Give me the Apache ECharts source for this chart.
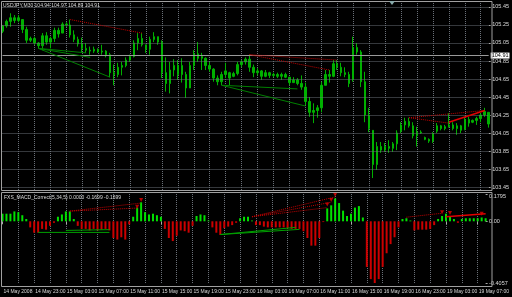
<!DOCTYPE html>
<html><head><meta charset="utf-8">
<script src="https://cdn.jsdelivr.net/npm/echarts@6/dist/echarts.min.js"></script>
<style>html,body{margin:0;padding:0;background:#000;}#c{width:512px;height:297px;}</style>
</head><body><div id="c"></div>
<script>
// ---- data (USDJPY M30, 14-19 May 2008) ----
const timeLabels = ["14 May 2008","14 May 23:00","15 May 03:00","15 May 07:00","15 May 11:00","15 May 15:00","15 May 19:00","15 May 23:00","16 May 03:00","16 May 07:00","16 May 11:00","16 May 15:00","16 May 19:00","16 May 23:00","19 May 03:00","19 May 07:00"];
const high = [105.25,105.31,105.38,105.36,105.36,105.31,105.23,105.12,105.12,105.06,105.16,105.17,105.12,105.22,105.22,105.28,105.28,105.31,105.19,105.12,
105.11,105.05,105.01,105.01,104.99,105.03,104.97,104.94,104.81,104.83,104.84,104.89,104.92,105.08,105.16,105.16,105.03,105.12,105.17,105.12,
105.08,104.89,104.84,104.87,104.86,104.88,104.73,104.84,104.97,105.06,104.94,104.89,104.84,104.77,104.69,104.73,104.83,104.73,104.73,104.84,
104.86,104.89,104.92,104.81,104.77,104.75,104.75,104.73,104.72,104.72,104.72,104.72,104.67,104.67,104.66,104.69,104.61,104.45,104.38,104.36,
104.62,104.75,104.75,104.86,104.86,104.83,104.78,104.73,105.12,105.05,104.97,104.73,104.33,104.08,103.95,103.95,103.94,103.97,103.95,104.08,
104.17,104.22,104.22,104.17,104.12,104.08,104.01,103.99,104.06,104.16,104.14,104.14,104.27,104.17,104.16,104.14,104.23,104.23,104.20,104.23,
104.27,104.33,104.28];
const low = [105.16,105.22,105.23,105.27,105.28,105.16,105.05,105.06,105.03,104.99,104.97,105.03,104.99,105.06,105.11,105.16,105.23,105.11,105.06,105.01,
104.95,104.94,104.92,104.94,104.94,104.92,104.89,104.67,104.58,104.67,104.69,104.78,104.84,104.89,104.97,105.01,104.94,104.92,105.06,105.03,
104.66,104.51,104.49,104.68,104.64,104.61,104.44,104.62,104.75,104.84,104.75,104.75,104.73,104.62,104.58,104.58,104.66,104.58,104.67,104.69,
104.78,104.81,104.73,104.67,104.69,104.64,104.67,104.66,104.67,104.66,104.64,104.66,104.58,104.61,104.58,104.53,104.36,104.23,104.16,104.22,
104.28,104.58,104.61,104.67,104.75,104.68,104.67,104.56,104.62,104.92,104.56,104.17,104.06,103.55,103.64,103.83,103.84,103.83,103.84,103.86,
104.05,104.08,104.11,103.99,103.90,104.04,103.97,103.94,103.94,104.05,104.08,104.08,104.11,104.08,104.03,104.05,104.08,104.12,104.16,104.14,
104.17,104.23,104.11];
const open = [105.18,105.24,105.29,105.33,105.30,105.31,105.20,105.08,105.10,105.05,105.02,105.13,105.06,105.10,105.19,105.16,105.26,105.25,105.14,105.09,
105.04,104.99,104.97,104.96,104.98,104.95,104.96,104.92,104.72,104.70,104.78,104.80,104.86,104.90,105.05,105.10,105.03,104.98,105.09,105.12,
105.06,104.72,104.60,104.75,104.80,104.70,104.70,104.55,104.80,104.93,104.88,104.88,104.80,104.76,104.66,104.62,104.70,104.72,104.68,104.71,
104.81,104.84,104.87,104.78,104.72,104.74,104.68,104.72,104.69,104.70,104.68,104.70,104.67,104.61,104.64,104.60,104.56,104.40,104.28,104.30,
104.33,104.58,104.70,104.68,104.82,104.78,104.72,104.70,104.64,105.00,104.95,104.62,104.25,104.08,103.70,103.90,103.86,103.90,103.88,103.93,
104.07,104.14,104.18,104.13,104.02,104.06,104.00,103.98,103.96,104.07,104.13,104.10,104.12,104.14,104.10,104.13,104.09,104.20,104.17,104.19,
104.21,104.25,104.28];
const close = [105.24,105.29,105.33,105.30,105.33,105.20,105.08,105.10,105.05,105.02,105.13,105.06,105.10,105.19,105.15,105.26,105.25,105.14,105.09,105.04,
104.99,104.97,104.96,104.98,104.95,104.96,104.92,104.72,104.70,104.78,104.80,104.86,104.90,105.05,105.10,105.03,104.98,105.09,105.12,105.06,
104.72,104.60,104.75,104.80,104.70,104.80,104.55,104.80,104.93,104.88,104.90,104.80,104.76,104.66,104.62,104.70,104.74,104.66,104.71,104.81,
104.84,104.87,104.78,104.72,104.74,104.68,104.72,104.69,104.70,104.68,104.70,104.67,104.61,104.64,104.60,104.56,104.40,104.28,104.30,104.33,
104.58,104.70,104.68,104.82,104.78,104.72,104.70,104.60,105.00,104.95,104.62,104.25,104.10,103.70,103.90,103.86,103.90,103.88,103.93,104.05,
104.14,104.18,104.13,104.02,104.06,104.05,103.98,103.96,104.04,104.13,104.10,104.12,104.14,104.10,104.13,104.08,104.20,104.16,104.19,104.21,
104.25,104.29,104.15];
const macd = [0.05,0.05,0.05,0.065,0.06,0.04,0.015,
-0.04,-0.075,-0.075,-0.05,-0.055,-0.03,-0.01,
0.03,0.045,0.065,0.065,0.015,
-0.03,-0.05,-0.05,-0.06,-0.05,-0.06,-0.055,-0.05,-0.06,-0.11,-0.12,-0.105,-0.12,-0.02,
0.03,0.09,0.125,0.06,0.045,0.05,0.04,0.03,
-0.05,-0.11,-0.13,-0.095,-0.06,-0.065,-0.075,-0.03,
0.035,0.045,0.04,0.005,
-0.04,-0.075,-0.09,-0.045,-0.035,-0.025,-0.01,
0.02,0.03,0.03,0.005,
-0.025,-0.025,-0.035,-0.04,-0.04,-0.04,-0.04,-0.04,-0.045,-0.05,-0.05,-0.05,-0.065,-0.11,-0.16,-0.16,-0.11,-0.005,
0.085,0.105,0.15,0.12,0.07,0.035,0.05,0.09,0.1,0.025,
-0.3,-0.38,-0.4057,-0.38,-0.3,-0.21,-0.15,-0.105,-0.04,
0.015,0.02,0.005,
-0.06,-0.055,-0.055,-0.055,-0.05,-0.025,
0.015,0.035,0.05,0.035,0.015,-0.01,
0.015,0.02,0.02,0.02,0.02,0.025,0.02];
const priceTicks = [105.45,105.25,105.05,104.85,104.65,104.45,104.25,104.05,103.85,103.65,103.45];
const macdTicks = [0.1795, 0, -0.4057];
const macdTickLabels = ["0.1795","0.00","-0.4057"];
const lastPrice = 104.91;
const headerText = "USDJPY,M30 104.94 104.97 104.89 104.91";
const macdHeader = "FXS_MACD_Correct(5,34,5) 0.0000 -0.1699 -0.1699";
// divergence segments: [barIndex, value]
const priceDivRed = [[[17,105.31],[35,105.16]],[[62,104.92],[84,104.86]],[[62,104.92],[82,104.75]],[[102,104.22],[112,104.16]],[[102,104.22],[121,104.30]]];
const priceDivRedSolid = [[[112,104.17],[121,104.30]]];
const priceDivGreen = [[[9,104.99],[27,104.67]],[[9,104.99],[22,104.89]],[[9,104.99],[21,104.94]],[[55,104.58],[74,104.54]],[[55,104.58],[76,104.35]]];
const macdDivRed = [[[17,0.067],[34,0.087]],[[17,0.067],[35,0.12]],[[63,0.03],[84,0.16]],[[63,0.03],[83,0.125]],[[63,0.03],[82,0.09]],[[102,0.027],[111,0.053]]];
const macdDivRedSolid = [[[112,0.03],[122,0.05]]];
const macdDivGreen = [[[9,-0.073],[27,-0.073]],[[16,-0.06],[27,-0.055]],[[55,-0.087],[75,-0.053]],[[55,-0.087],[74,-0.04]]];
const macdArrows = [[34,0.095],[35,0.14],[82,0.11],[83,0.14],[84,0.175],[111,0.06],[113,0.055],[121,0.05]];

// ---- chart ----
const cats = high.map((_, i) => String(i));
const gridColor = '#6a7078';
const txt = '#dcdcdc';
const FONT = 'Liberation Sans';
const chart = echarts.init(document.getElementById('c'), null, {renderer: 'canvas'});

function segSeries(segs, color, type, xi, yi, width) {
  return segs.map(s => ({
    type: 'line', xAxisIndex: xi, yAxisIndex: yi, data: s, symbol: 'none', silent: true,
    lineStyle: {color: color, type: type, width: width || 1}, z: 5
  }));
}

const option = {
  backgroundColor: '#000',
  animation: false,
  grid: [
    {left: 2.5, right: 21.5, top: 3, height: 188},
    {left: 2.5, right: 21.5, top: 194, height: 89}
  ],
  xAxis: [
    {type: 'category', gridIndex: 0, data: cats, boundaryGap: false,
     axisLine: {show: false}, axisTick: {show: false}, axisLabel: {show: false},
     splitLine: {show: true, interval: (i) => i > 0 && i % 4 === 0, lineStyle: {color: gridColor, type: 'dotted', width: 1}}},
    {type: 'category', gridIndex: 1, data: cats, boundaryGap: false,
     axisLine: {show: false},
     axisTick: {show: true, interval: (i) => i % 8 === 0, length: 3, lineStyle: {color: '#aaa'}},
     axisLabel: {interval: (i) => i % 8 === 0, formatter: (v, i) => timeLabels[i / 8], align: 'left',
                 fontSize: 5, color: txt, margin: 6, fontFamily: FONT, padding: [0, 0, 0, 1]},
     splitLine: {show: true, interval: (i) => i > 0 && i % 4 === 0, lineStyle: {color: gridColor, type: 'dotted', width: 1}}}
  ],
  yAxis: [
    {type: 'value', gridIndex: 0, position: 'right', min: 103.406, max: 105.494, scale: true,
     splitLine: {show: false}, axisLine: {show: false},
     axisTick: {show: true, customValues: priceTicks, length: 2, lineStyle: {color: '#aaa'}},
     axisLabel: {customValues: priceTicks, formatter: (v) => Number(v).toFixed(2), fontSize: 5.5, color: txt, margin: 3.5, fontFamily: FONT}},
    {type: 'value', gridIndex: 1, position: 'right', min: -0.4057, max: 0.1795,
     splitLine: {show: false}, axisLine: {show: false},
     axisTick: {show: true, customValues: macdTicks, length: 2, lineStyle: {color: '#aaa'}},
     axisLabel: {customValues: macdTicks,
       formatter: (v) => { const k = macdTicks.indexOf(Number(v)); return k === 0 ? '{t|' + macdTickLabels[k] + '}' : (macdTickLabels[k] || ''); },
       rich: {t: {fontSize: 5.5, color: txt, fontFamily: FONT, padding: [5, 0, 0, 0]}},
       fontSize: 5.5, color: txt, margin: 3.5, fontFamily: FONT}}
  ],
  series: [
    {type: 'candlestick', xAxisIndex: 0, yAxisIndex: 0, barWidth: 2, clip: false,
     data: high.map((h, i) => [open[i], close[i], low[i], h]),
     itemStyle: {color: '#00b000', color0: '#00b000', borderColor: '#00b000', borderColor0: '#00b000', borderWidth: 1},
     markLine: {silent: true, symbol: 'none', animation: false,
       data: priceTicks.map(v => ({yAxis: v, lineStyle: {color: gridColor, type: 'dotted', width: 1}, label: {show: false}}))
         .concat([{yAxis: lastPrice, lineStyle: {color: '#9a9a9a', type: 'solid', width: 1},
                   label: {show: true, position: 'end', distance: 2, formatter: lastPrice.toFixed(2), backgroundColor: '#fff', color: '#000', fontSize: 5.5, padding: [0, 1], fontFamily: FONT}}])}
    },
    {type: 'bar', xAxisIndex: 1, yAxisIndex: 1, barWidth: 2, data: macd,
     itemStyle: {color: (p) => p.value >= 0 ? '#00e000' : '#cc0000'}},
    {type: 'scatter', xAxisIndex: 1, yAxisIndex: 1, data: macdArrows, symbol: 'triangle', symbolSize: 4, symbolRotate: 180,
     itemStyle: {color: '#e00000'}, silent: true, z: 6}
  ].concat(segSeries(priceDivRed, '#c00000', 'dotted', 0, 0))
   .concat(segSeries(priceDivRedSolid, '#e00000', 'solid', 0, 0, 1.5))
   .concat(segSeries(priceDivGreen, '#008000', 'solid', 0, 0))
   .concat(segSeries(macdDivRed, '#c00000', 'dotted', 1, 1))
   .concat(segSeries(macdDivRedSolid, '#e00000', 'solid', 1, 1, 1.5))
   .concat(segSeries(macdDivGreen, '#00a000', 'solid', 1, 1)),
  graphic: [
    {type: 'rect', shape: {x: 1.5, y: 1.5, width: 490.5, height: 189}, style: {fill: null, stroke: '#a0a0a0', lineWidth: 1}, silent: true, z: 10},
    {type: 'rect', shape: {x: 1.5, y: 192.5, width: 490.5, height: 94}, style: {fill: null, stroke: '#a0a0a0', lineWidth: 1}, silent: true, z: 10},
    {type: 'text', left: 3, top: 3, style: {text: headerText, fill: txt, fontSize: 5, fontFamily: FONT}, silent: true, z: 11},
    {type: 'text', left: 4, top: 195, style: {text: macdHeader, fill: txt, fontSize: 5, fontFamily: FONT}, silent: true, z: 11},
    {type: 'polygon', shape: {points: [[389, 1], [395, 1], [392, 5]]}, style: {fill: '#8aa'}, silent: true, z: 11}
  ]
};
chart.setOption(option);
</script></body></html>
